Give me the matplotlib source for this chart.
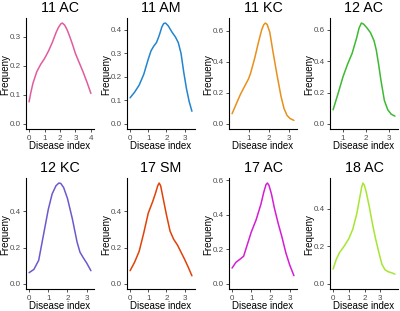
import matplotlib
matplotlib.use("Agg")
import matplotlib.pyplot as plt

plt.rcParams['font.family'] = ['Liberation Sans', 'DejaVu Sans']

titles = ["11 AC", "11 AM", "11 KC", "12 AC", "12 KC", "17 SM", "17 AC", "18 AC"]
colors = ["#E05C9F", "#2185D0", "#E8901A", "#3DBA32", "#6A5ACD", "#E0420A", "#D41ED4", "#A6E632"]

x_11AC = [0, 0.1, 0.25, 0.5, 0.75, 1.0, 1.25, 1.5, 1.75, 1.9, 2.05, 2.15, 2.3, 2.45, 2.6, 2.8, 3.0, 3.25, 3.5, 3.75, 4.0]
y_11AC = [0.076, 0.105, 0.14, 0.18, 0.205, 0.225, 0.25, 0.28, 0.315, 0.332, 0.344, 0.347, 0.34, 0.325, 0.305, 0.275, 0.242, 0.21, 0.178, 0.143, 0.105]

x_11AM = [0, 0.25, 0.5, 0.75, 1.0, 1.15, 1.3, 1.45, 1.6, 1.75, 1.85, 1.95, 2.1, 2.3, 2.5, 2.65, 2.8, 2.95, 3.1, 3.25, 3.4]
y_11AM = [0.111, 0.135, 0.165, 0.21, 0.275, 0.31, 0.33, 0.345, 0.375, 0.412, 0.426, 0.428, 0.416, 0.39, 0.368, 0.345, 0.3, 0.22, 0.15, 0.095, 0.054]

x_11KC = [0.19, 0.4, 0.6, 0.8, 1.0, 1.1, 1.3, 1.5, 1.65, 1.75, 1.83, 1.92, 2.05, 2.2, 2.4, 2.6, 2.75, 2.9, 3.05, 3.24]
y_11KC = [0.066, 0.13, 0.19, 0.24, 0.29, 0.325, 0.42, 0.53, 0.605, 0.638, 0.649, 0.64, 0.59, 0.47, 0.32, 0.18, 0.1, 0.055, 0.035, 0.023]

x_12AC = [0.57, 0.8, 1.0, 1.2, 1.4, 1.6, 1.7, 1.8, 1.9, 2.05, 2.2, 2.35, 2.45, 2.55, 2.65, 2.8, 2.95, 3.1, 3.26]
y_12AC = [0.09, 0.2, 0.3, 0.38, 0.45, 0.55, 0.61, 0.642, 0.635, 0.61, 0.58, 0.53, 0.47, 0.38, 0.28, 0.15, 0.09, 0.062, 0.05]

x_12KC = [0, 0.25, 0.5, 0.75, 1.0, 1.2, 1.4, 1.55, 1.65, 1.8, 2.0, 2.25, 2.5, 2.65, 2.8, 3.0, 3.22]
y_12KC = [0.062, 0.08, 0.13, 0.27, 0.41, 0.495, 0.54, 0.555, 0.553, 0.53, 0.47, 0.36, 0.23, 0.175, 0.148, 0.115, 0.073]

x_17SM = [0, 0.25, 0.5, 0.75, 1.0, 1.25, 1.4, 1.52, 1.6, 1.68, 1.8, 2.0, 2.2, 2.4, 2.6, 2.8, 3.0, 3.2, 3.4]
y_17SM = [0.073, 0.12, 0.18, 0.28, 0.39, 0.455, 0.5, 0.54, 0.555, 0.54, 0.48, 0.38, 0.29, 0.245, 0.215, 0.175, 0.135, 0.092, 0.045]

x_17AC = [0, 0.2, 0.4, 0.6, 0.8, 1.0, 1.25, 1.5, 1.65, 1.77, 1.84, 1.92, 2.05, 2.2, 2.4, 2.6, 2.8, 3.0, 3.22]
y_17AC = [0.092, 0.125, 0.142, 0.16, 0.23, 0.3, 0.37, 0.46, 0.53, 0.575, 0.583, 0.57, 0.52, 0.44, 0.35, 0.27, 0.18, 0.11, 0.048]

x_18AC = [0, 0.2, 0.4, 0.7, 1.0, 1.25, 1.5, 1.7, 1.82, 1.9, 1.98, 2.1, 2.3, 2.5, 2.7, 2.9, 3.1, 3.3, 3.5, 3.7, 3.93]
y_18AC = [0.079, 0.13, 0.165, 0.2, 0.24, 0.29, 0.37, 0.46, 0.515, 0.535, 0.525, 0.49, 0.41, 0.32, 0.24, 0.17, 0.105, 0.075, 0.065, 0.06, 0.052]

xs = [x_11AC, x_11AM, x_11KC, x_12AC, x_12KC, x_17SM, x_17AC, x_18AC]
ys = [y_11AC, y_11AM, y_11KC, y_12AC, y_12KC, y_17SM, y_17AC, y_18AC]

yticks = [[0, 0.1, 0.2, 0.3], [0, 0.1, 0.2, 0.3, 0.4], [0, 0.2, 0.4, 0.6], [0, 0.2, 0.4, 0.6],
          [0, 0.2, 0.4], [0, 0.2, 0.4], [0, 0.2, 0.4, 0.6], [0, 0.2, 0.4]]
xticks = [[0, 1, 2, 3, 4], [0, 1, 2, 3], [1, 2, 3], [1, 2, 3],
          [0, 1, 2, 3], [0, 1, 2, 3], [0, 1, 2, 3], [0, 1, 2, 3]]

W, H = 400, 311
fig = plt.figure(figsize=(W / 100, H / 100), dpi=100)

lefts = [26, 127, 229, 330]
tops = [18, 178]
aw, ah = 68, 111

for i in range(8):
    r, c = divmod(i, 4)
    l = lefts[c]
    t = tops[r]
    ax = fig.add_axes([l / W, 1 - (t + ah) / H, aw / W, ah / H])
    x, y = xs[i], ys[i]
    ax.plot(x, y, color=colors[i], lw=1.1, solid_capstyle="round", solid_joinstyle="round")
    xr = max(x) - min(x)
    ax.set_xlim(min(x) - 0.05 * xr, max(x) + 0.05 * xr)
    ym = max(y)
    ax.set_ylim(-0.05 * ym, 1.05 * ym)
    ax.set_yticks(yticks[i])
    ax.set_yticklabels([f"{v:.1f}" for v in yticks[i]])
    ax.set_xticks(xticks[i])
    ax.set_xticklabels([str(v) for v in xticks[i]])
    for s in ["top", "right"]:
        ax.spines[s].set_visible(False)
    for s in ["left", "bottom"]:
        ax.spines[s].set_linewidth(0.8)
        ax.spines[s].set_color("black")
    ax.tick_params(axis="both", length=2.2, width=0.6, color="#333333",
                   labelsize=5.8, labelcolor="#4D4D4D", pad=1.8)
    ax.patch.set_alpha(0)
    # title
    fig.text((l + aw / 2) / W, 1 - (t - 10) / H, titles[i], fontsize=10.3,
             ha="center", va="center", color="black")
    # x label
    fig.text((l + aw / 2) / W, 1 - (t + ah + 17) / H, "Disease index", fontsize=7,
             ha="center", va="center", color="black")
    # y label
    fig.text((l - 21) / W, 1 - (t + ah / 2 + 1) / H, "Frequeny", fontsize=7,
             ha="center", va="center", rotation=90, color="black")

fig.savefig("out.png", dpi=100, facecolor="white")
